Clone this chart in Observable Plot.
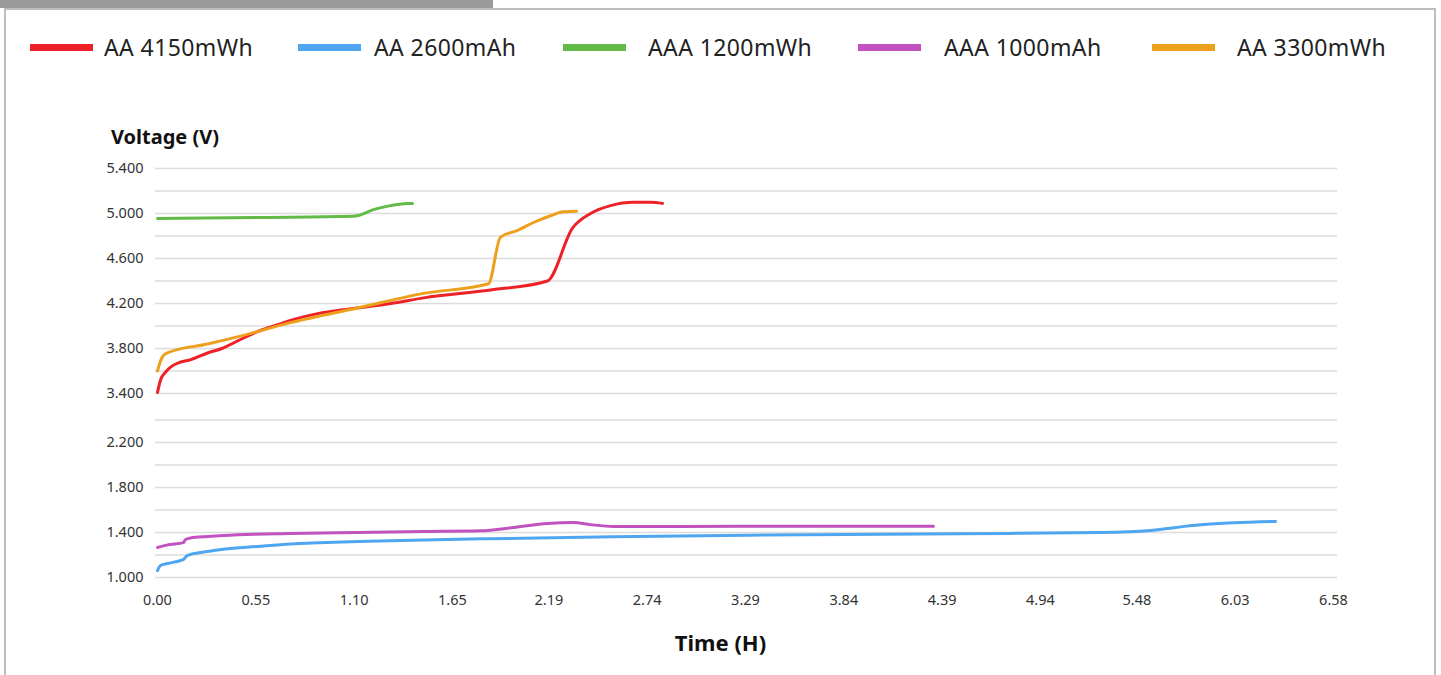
<!DOCTYPE html>
<html><head><meta charset="utf-8">
<script src="https://cdn.jsdelivr.net/npm/d3@7"></script>
<script src="https://cdn.jsdelivr.net/npm/@observablehq/plot@0.6"></script>
<style>
html,body{margin:0;padding:0;background:#fff;}
#wrap{position:relative;width:1441px;height:675px;overflow:hidden;font-family:"Noto Sans",sans-serif;color:#222;}
#tab{position:absolute;left:0;top:0;width:493px;height:8px;background:#9b9b9b;z-index:2;}
#frame{position:absolute;left:4px;top:8px;width:1432px;height:720px;border:2px solid #bdbdbd;box-sizing:border-box;}
#chart{position:absolute;left:0;top:0;}
.leg{position:absolute;top:32px;height:30px;display:flex;align-items:center;font-size:23px;letter-spacing:0.4px;white-space:nowrap;}
.sw{position:absolute;top:44px;width:63px;height:7px;}
.ttl{position:absolute;font-weight:bold;white-space:nowrap;color:#111;}
</style></head>
<body>
<div id="wrap">
  <div id="frame"></div>
  <div id="tab"></div>
  <div id="chart"></div>
  <div id="legend"></div>
  <div class="ttl" style="left:111px;top:123px;font-size:20px;">Voltage (V)</div>
  <div class="ttl" style="left:0;width:1441px;text-align:center;top:627px;font-size:22px;">Time (H)</div>
</div>
<script>
// ---- data ----
const seriesNames = ["AA 4150mWh", "AA 2600mAh", "AAA 1200mWh", "AAA 1000mAh", "AA 3300mWh"];
const seriesColors = ["#ee2128", "#4ea6f1", "#62bb46", "#c152c0", "#eca01c"];

const redT = [0, 0.017, 0.045, 0.073, 0.129, 0.185, 0.28, 0.36, 0.464, 0.56, 0.65, 0.744, 0.839, 0.929, 1.119, 1.304, 1.489, 1.863, 2.182, 2.322, 2.423, 2.535, 2.664, 2.759, 2.826];
const redV = [3.41, 3.52, 3.59, 3.635, 3.68, 3.70, 3.76, 3.80, 3.88, 3.95, 4.00, 4.05, 4.09, 4.12, 4.16, 4.20, 4.25, 4.32, 4.40, 4.87, 5.00, 5.07, 5.10, 5.10, 5.09];

const blueT = [0, 0.017, 0.056, 0.129, 0.145, 0.168, 0.28, 0.369, 0.56, 0.744, 1.119, 1.489, 1.863, 2.552, 3.302, 4.494, 5.277, 5.557, 5.652, 5.837, 6.021, 6.256];
const blueV = [1.062, 1.107, 1.124, 1.151, 1.16, 1.196, 1.231, 1.252, 1.276, 1.298, 1.32, 1.334, 1.345, 1.362, 1.376, 1.389, 1.40, 1.418, 1.436, 1.468, 1.486, 1.498];

const greenT = [0, 0.56, 1.097, 1.119, 1.209, 1.304, 1.399, 1.427];
const greenV = [4.955, 4.965, 4.975, 4.98, 5.035, 5.07, 5.09, 5.09];

const purpleT = [0, 0.056, 0.145, 0.157, 0.185, 0.28, 0.369, 0.744, 1.119, 1.489, 1.808, 1.992, 2.182, 2.328, 2.423, 2.552, 3.302, 4.342];
const purpleV = [1.267, 1.29, 1.31, 1.338, 1.352, 1.364, 1.373, 1.391, 1.40, 1.409, 1.415, 1.444, 1.48, 1.489, 1.47, 1.453, 1.455, 1.455];

const orangeT = [0, 0.017, 0.034, 0.062, 0.28, 0.464, 0.744, 1.119, 1.489, 1.852, 1.919, 2.015, 2.104, 2.199, 2.272, 2.345];
const orangeV = [3.60, 3.69, 3.74, 3.765, 3.84, 3.91, 4.03, 4.16, 4.29, 4.375, 4.79, 4.85, 4.92, 4.98, 5.015, 5.02];

const xTicks = [0, 0.55, 1.10, 1.65, 2.19, 2.74, 3.29, 3.84, 4.39, 4.94, 5.48, 6.03, 6.58];
const yTicks = [1.0, 1.4, 1.8, 2.2, 3.4, 3.8, 4.2, 4.6, 5.0, 5.4];
const yGrid = [1.0, 1.2, 1.4, 1.6, 1.8, 2.0, 2.2, 2.75, 3.4, 3.6, 3.8, 4.0, 4.2, 4.4, 4.6, 4.8, 5.0, 5.2, 5.4];

// ---- build table ----
const allT = [redT, blueT, greenT, purpleT, orangeT];
const allV = [redV, blueV, greenV, purpleV, orangeV];
const rows = [];
seriesNames.forEach((name, i) => {
  allT[i].forEach((t, j) => rows.push({series: name, t, v: allV[i][j]}));
});

const chart = Plot.plot({
  width: 1441,
  height: 675,
  marginLeft: 157,
  marginRight: 108,
  marginTop: 168,
  marginBottom: 98,
  style: {fontFamily: "Noto Sans, sans-serif", fontSize: "14.5px", color: "#333", background: "transparent", overflow: "visible"},
  x: {domain: [0, 6.58]},
  y: {type: "linear", domain: [1.0, 2.2, 3.4, 5.4], range: [577, 442, 393, 168]},
  color: {domain: seriesNames, range: seriesColors},
  marks: [
    Plot.ruleY(yGrid, {stroke: "#dcdcdc", strokeWidth: 1.4, insetLeft: -2, insetRight: -4}),
    Plot.axisY(yTicks, {tickFormat: d3.format(".3f"), tickSize: 0, tickPadding: 14, label: null}),
    Plot.axisX(xTicks, {tickFormat: d3.format(".2f"), tickSize: 0, tickPadding: 17, label: null}),
    Plot.line(rows, {x: "t", y: "v", z: "series", stroke: "series", strokeWidth: 3, curve: "monotone-x", strokeLinejoin: "round", strokeLinecap: "round"})
  ]
});
document.getElementById("chart").appendChild(chart);

// ---- legend ----
const legSw = [30, 298, 563, 858, 1152];
const legTx = [104, 374, 648, 944, 1237];
const leg = document.getElementById("legend");
seriesNames.forEach((name, i) => {
  const sw = document.createElement("div");
  sw.className = "sw";
  sw.style.left = legSw[i] + "px";
  sw.style.background = seriesColors[i];
  leg.appendChild(sw);
  const tx = document.createElement("div");
  tx.className = "leg";
  tx.style.left = legTx[i] + "px";
  tx.textContent = name;
  leg.appendChild(tx);
});
</script>
</body></html>
